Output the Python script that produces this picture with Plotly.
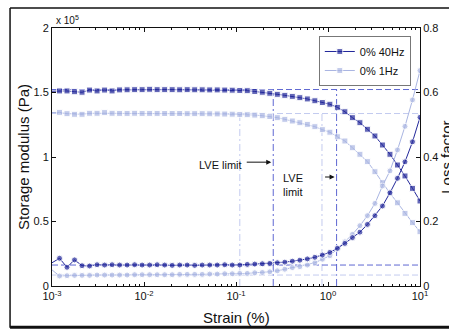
import math
import plotly.graph_objects as go

# Strain sweep grid (%), 50 points over four decades
strain = [0.001, 0.001207, 0.001456, 0.001758, 0.002121, 0.002560, 0.003089, 0.003728,
          0.004498, 0.005429, 0.006551, 0.007906, 0.009541, 0.01151, 0.01389, 0.01677,
          0.02024, 0.02442, 0.02947, 0.03556, 0.04292, 0.05179, 0.06251, 0.07543,
          0.09103, 0.1099, 0.1326, 0.1600, 0.1931, 0.2330, 0.2812, 0.3393, 0.4095,
          0.4942, 0.5964, 0.7197, 0.8685, 1.048, 1.265, 1.526, 1.842, 2.223, 2.683,
          3.237, 3.907, 4.715, 5.690, 6.866, 8.286, 10.0]

# Storage modulus (x 1e5 Pa)
storage_40hz = [1.510, 1.512, 1.512, 1.506, 1.502, 1.519, 1.512, 1.519, 1.512, 1.520,
                1.521, 1.522, 1.522, 1.525, 1.522, 1.522, 1.522, 1.521, 1.522, 1.521,
                1.521, 1.520, 1.520, 1.519, 1.518, 1.516, 1.514, 1.508, 1.502, 1.494,
                1.486, 1.478, 1.470, 1.460, 1.450, 1.436, 1.422, 1.409, 1.385, 1.351,
                1.305, 1.266, 1.215, 1.163, 1.093, 1.021, 0.938, 0.853, 0.757, 0.659]
storage_1hz = [1.345, 1.346, 1.336, 1.331, 1.331, 1.339, 1.339, 1.344, 1.339, 1.338,
               1.338, 1.339, 1.338, 1.338, 1.338, 1.337, 1.337, 1.337, 1.336, 1.336,
               1.336, 1.335, 1.334, 1.333, 1.332, 1.330, 1.328, 1.325, 1.320, 1.314,
               1.305, 1.292, 1.279, 1.266, 1.253, 1.235, 1.212, 1.192, 1.157, 1.124,
               1.072, 1.021, 0.964, 0.886, 0.801, 0.719, 0.645, 0.563, 0.491, 0.421]

# Loss factor
loss_40hz = [0.072, 0.086, 0.058, 0.081, 0.063, 0.062, 0.066, 0.065, 0.066, 0.065,
             0.065, 0.066, 0.065, 0.065, 0.066, 0.065, 0.064, 0.065, 0.065, 0.064,
             0.065, 0.065, 0.065, 0.066, 0.065, 0.065, 0.067, 0.068, 0.069, 0.070,
             0.072, 0.074, 0.077, 0.080, 0.084, 0.089, 0.096, 0.104, 0.117, 0.132,
             0.150, 0.167, 0.191, 0.218, 0.248, 0.289, 0.334, 0.385, 0.447, 0.523]
loss_1hz = [0.050, 0.031, 0.032, 0.033, 0.033, 0.033, 0.034, 0.034, 0.034, 0.034,
            0.034, 0.035, 0.035, 0.035, 0.035, 0.035, 0.035, 0.036, 0.036, 0.036,
            0.036, 0.037, 0.037, 0.038, 0.038, 0.039, 0.039, 0.041, 0.042, 0.044,
            0.047, 0.052, 0.057, 0.060, 0.065, 0.072, 0.083, 0.094, 0.115, 0.137,
            0.160, 0.187, 0.218, 0.256, 0.310, 0.357, 0.422, 0.495, 0.577, 0.668]

# Plateau levels and linear-viscoelastic limits
plateau_storage = {"40hz": 1.523, "1hz": 1.337}
plateau_loss = {"40hz": 0.065, "1hz": 0.034}
lve_limits = {"40hz": [0.254, 1.24], "1hz": [0.11, 0.86]}

series_names = ["0% 40Hz", "0% 1Hz"]
x_tickvals = [0.001, 0.01, 0.1, 1, 10]
x_ticktext = ["10<sup>-3</sup>", "10<sup>-2</sup>", "10<sup>-1</sup>", "10<sup>0</sup>", "10<sup>1</sup>"]
y_tickvals = [0, 0.5, 1, 1.5, 2]
y_ticktext = ["0", "0.5", "1", "1.5", "2"]
y2_tickvals = [0, 0.2, 0.4, 0.6, 0.8]
y2_ticktext = ["0", "0.2", "0.4", "0.6", "0.8"]

DARK = "#22279a"
LIGHT = "#a9b5e2"
DARK_REF = "#5f68d2"
LIGHT_REF = "#c3cbef"
FONT = "Liberation Sans, Arial, sans-serif"

x_min, x_max = x_tickvals[0], x_tickvals[-1]

fig = go.Figure()

# Reference lines (drawn first so data sits on top)
for key, col in (("40hz", DARK_REF), ("1hz", LIGHT_REF)):
    fig.add_trace(go.Scatter(x=[x_min, x_max], y=[plateau_storage[key]] * 2, mode="lines",
                             line=dict(color=col, width=1, dash="6px,3px"),
                             showlegend=False, hoverinfo="skip"))
    fig.add_trace(go.Scatter(x=[x_min, x_max], y=[plateau_loss[key]] * 2, mode="lines",
                             yaxis="y2", line=dict(color=col, width=1, dash="6px,3px"),
                             showlegend=False, hoverinfo="skip"))
    for lim in lve_limits[key]:
        fig.add_trace(go.Scatter(x=[lim, lim], y=[0, plateau_storage[key]], mode="lines",
                                 line=dict(color=col, width=1, dash="7px,3px,2px,3px"),
                                 showlegend=False, hoverinfo="skip"))

n = len(strain)
sizes = [0] + [6] * (n - 1)

fig.add_trace(go.Scatter(x=strain, y=loss_1hz, yaxis="y2", mode="lines+markers",
                         line=dict(color=LIGHT, width=1),
                         marker=dict(symbol="circle", size=sizes, color=LIGHT),
                         showlegend=False))
fig.add_trace(go.Scatter(x=strain, y=loss_40hz, yaxis="y2", mode="lines+markers",
                         line=dict(color=DARK, width=1),
                         marker=dict(symbol="circle", size=sizes, color=DARK),
                         showlegend=False))
fig.add_trace(go.Scatter(x=strain, y=storage_40hz, mode="lines+markers", name=series_names[0],
                         line=dict(color=DARK, width=1),
                         marker=dict(symbol="square", size=sizes, color=DARK)))
fig.add_trace(go.Scatter(x=strain, y=storage_1hz, mode="lines+markers", name=series_names[1],
                         line=dict(color=LIGHT, width=1),
                         marker=dict(symbol="square", size=sizes, color=LIGHT)))

minor_vals = [m * 10 ** e for e in range(-3, 1) for m in range(2, 10)]

axis_common = dict(tickmode="array", ticks="inside", ticklen=4, tickcolor="#111",
                   showline=True, linecolor="#111", linewidth=1, showgrid=False,
                   zeroline=False, automargin=False)

fig.update_layout(
    width=449, height=329,
    margin=dict(l=52, r=29, t=28, b=43),
    paper_bgcolor="white", plot_bgcolor="white",
    font=dict(family=FONT, size=11, color="#111"),
    xaxis=dict(type="log", range=[-3, 1], tickvals=x_tickvals, ticktext=x_ticktext,
               mirror="ticks",
               minor=dict(ticks="inside", ticklen=2, tickvals=minor_vals, tickcolor="#111",
                          showgrid=False),
               **axis_common),
    yaxis=dict(range=[0, 2], tickvals=y_tickvals, ticktext=y_ticktext, **axis_common),
    yaxis2=dict(range=[0, 0.8], overlaying="y", side="right", tickvals=y2_tickvals,
                ticktext=y2_ticktext, **axis_common),
    legend=dict(x=0.725, y=0.969, xanchor="left", yanchor="top",
                bgcolor="white", bordercolor="#777", borderwidth=1,
                font=dict(size=11), tracegroupgap=0),
)

# Axis titles
title_font = dict(size=15, color="#111")
fig.add_annotation(text="Strain (%)", xref="paper", yref="paper", x=0.5, y=-0.122,
                   xanchor="center", yanchor="middle", showarrow=False, font=title_font)
fig.add_annotation(text="Storage modulus (Pa)", xref="paper", yref="paper", x=-0.079,
                   y=0.5, textangle=-90, xanchor="center", yanchor="middle",
                   showarrow=False, font=title_font)
fig.add_annotation(text="Loss factor", xref="paper", yref="paper", x=1.07, y=0.5,
                   textangle=-90, xanchor="center", yanchor="middle",
                   showarrow=False, font=title_font)

# Exponent label for the storage-modulus axis
fig.add_annotation(text="x 10<sup>5</sup>", xref="paper", yref="paper", x=0.006, y=1.0,
                   xanchor="left", yanchor="bottom", showarrow=False, font=dict(size=10))

# LVE limit callouts
lve40 = lve_limits["40hz"]
fig.add_annotation(text="LVE limit", xref="x", yref="y", x=math.log10(lve40[0]), y=0.935,
                   xshift=-53, showarrow=False, font=dict(size=11))
fig.add_annotation(text="", xref="x", yref="y", x=math.log10(lve40[0]), y=0.96,
                   ax=-28, ay=0, showarrow=True, arrowhead=2, arrowsize=1, arrowwidth=1,
                   arrowcolor="#111", standoff=2)
fig.add_annotation(text="LVE<br>limit", xref="x", yref="y", x=math.log10(lve40[1]), y=0.78,
                   xshift=-44, showarrow=False, font=dict(size=11), align="left")
fig.add_annotation(text="", xref="x", yref="y", x=math.log10(lve40[1]), y=0.845,
                   ax=-13, ay=0, showarrow=True, arrowhead=2, arrowsize=1, arrowwidth=1,
                   arrowcolor="#111", standoff=2)

# Figure frame
frame = dict(type="line", xref="paper", yref="paper", line=dict(color="#111", width=1.5))
fig.add_shape(**frame, x0=-0.114, x1=-0.114, y0=1.078, y1=-0.162)
fig.add_shape(**frame, x0=-0.114, x1=1.2, y0=1.078, y1=1.078)
fig.add_shape(type="line", xref="paper", yref="paper", x0=-0.114, x1=1.2, y0=-0.160,
              y1=-0.160, line=dict(color="#111", width=3))

fig.write_html("out.html")
